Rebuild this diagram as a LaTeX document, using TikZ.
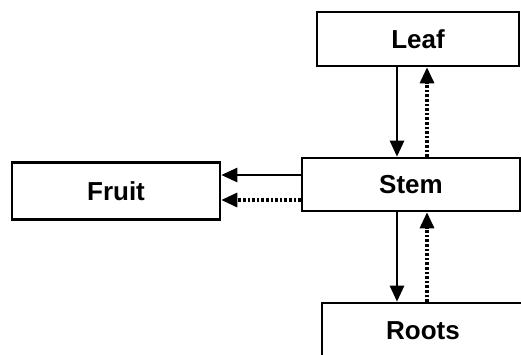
\documentclass[tikz,border=0pt]{standalone}
\usepackage{fontspec}
\setmainfont{Liberation Sans}
\usetikzlibrary{arrows.meta}
\tikzset{
  part/.style={draw, line width=2.6pt, inner sep=0pt, font=\fontsize{26}{30}\selectfont\bfseries},
  flow/.style={line width=2.6pt},
  back/.style={line width=3.2pt, dash pattern=on 2.6pt off 2pt}
}

\begin{document}
\begin{tikzpicture}[x=1pt, y=-1pt, >={Triangle[length=16pt,width=14pt]}]
        \useasboundingbox (0, 0) rectangle (521, 354);
        \node [part, minimum width=202pt, minimum height=54pt] (LF) at (418, 39) {Leaf};
        \node [part, minimum width=218pt, minimum height=53pt] (ST) at (411, 184.5) {Stem};
        \node [part, minimum width=208pt, minimum height=57pt] (FR) at (116, 191) {Fruit};
        \node [part, minimum width=202pt, minimum height=56pt] (RO) at (423, 331) {Roots};
        \draw [->, flow] ([xshift=-21pt]LF.south) -- ([xshift=-21pt]LF.south |- ST.north);
        \draw [->, back] ([xshift=16pt]ST.north) -- ([xshift=16pt]ST.north |- LF.south);
        \draw [->, flow] ([yshift=9.5pt]ST.west) -- ([yshift=9.5pt]ST.west -| FR.east);
        \draw [->, back] ([yshift=-15.5pt]ST.west) -- ([yshift=-15.5pt]ST.west -| FR.east);
        \draw [->, flow] ([xshift=-14pt]ST.south) -- ([xshift=-14pt]ST.south |- RO.north);
        \draw [->, back] ([xshift=16pt]ST.south |- RO.north) -- ([xshift=16pt]ST.south);
\end{tikzpicture}
\end{document}
